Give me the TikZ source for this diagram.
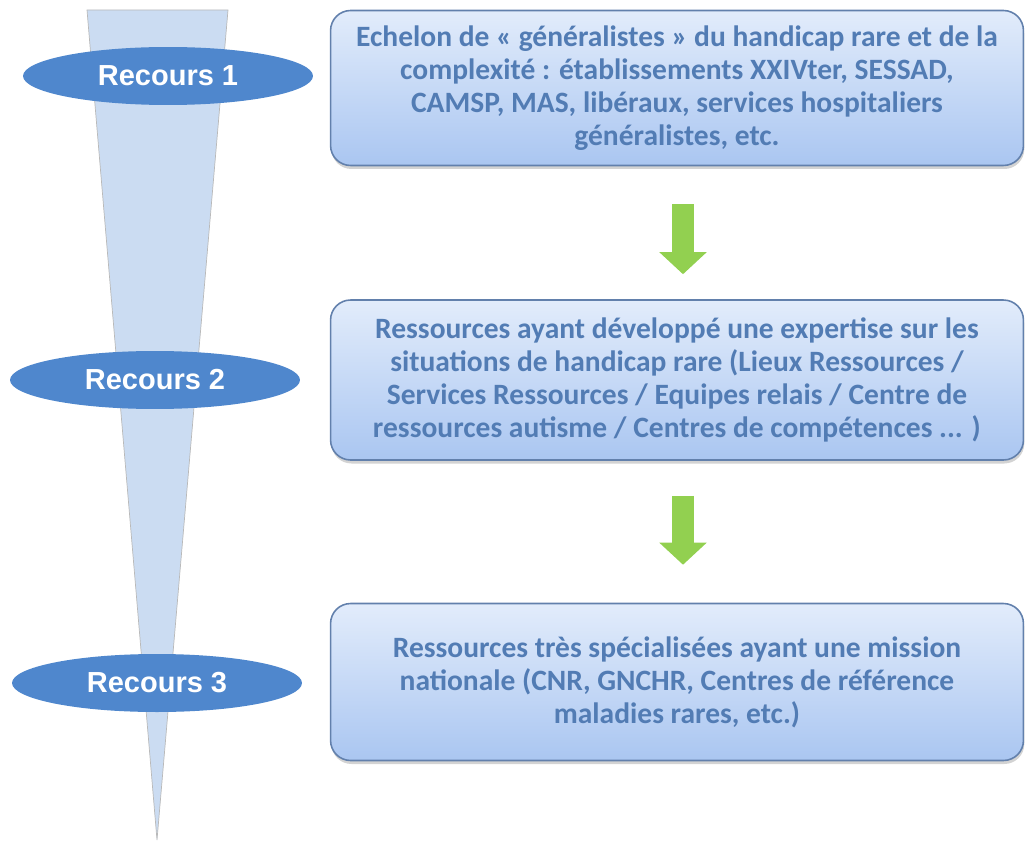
\documentclass[tikz,border=0pt]{standalone}
\usepackage{fontspec}
\setmainfont{Carlito}
\newfontfamily\recfont{Liberation Sans}
\usetikzlibrary{shapes.geometric,arrows.meta,shadows,positioning}
\definecolor{coneblue}{RGB}{203,220,242}
\definecolor{ovalblue}{RGB}{79,135,205}
\definecolor{boxtop}{RGB}{226,236,251}
\definecolor{boxbot}{RGB}{170,198,241}
\definecolor{boxline}{RGB}{98,128,172}
\definecolor{textblue}{RGB}{82,124,180}
\definecolor{arrowgreen}{RGB}{146,208,80}
\tikzset{
    recours/.style={ellipse, fill=ovalblue, minimum width=5.8cm, minimum height=1.16cm,
        inner sep=0pt, text=white, font=\recfont\fontsize{16.5}{18}\selectfont\bfseries},
    niveau/.style={rectangle, rounded corners=0.4cm, draw=boxline, line width=0.9pt,
        top color=boxtop, bottom color=boxbot, minimum width=13.86cm, align=center,
        text=textblue, font=\fontsize{16.8}{18.8}\selectfont\bfseries,
        drop shadow={shadow xshift=0.5pt, shadow yshift=-2pt, opacity=0.35}},
    descente/.style={line width=0.44cm, color=arrowgreen,
        -{Triangle[width=0.92cm, length=0.44cm]}}
}

\begin{document}
\begin{tikzpicture}[x=0.02cm, y=-0.02cm]
    \useasboundingbox (0,0) rectangle (1026,844);

    % le cone
    \filldraw[fill=coneblue, draw=gray!55, thin] (87,10) -- (228,10) -- (157,840) -- cycle;

    \node[recours] (r1) at (168,76) {Recours 1};
    \node[recours] (r2) at (155,380) {Recours 2};
    \node[recours] (r3) at (157,683) {Recours 3};

    \node[niveau, minimum height=3.1cm] (n1) at (677,88)
        {Echelon de « généralistes » du handicap rare et de la\\
         complexité : établissements XXIVter, SESSAD,\\
         CAMSP, MAS, libéraux, services hospitaliers\\
         généralistes, etc.};
    \node[niveau, minimum height=3.2cm] (n2) at (677,380)
        {Ressources ayant développé une expertise sur les\\
         situations de handicap rare (Lieux Ressources /\\
         Services Ressources / Equipes relais / Centre de\\
         ressources autisme / Centres de compétences ... )};
    \node[niveau, minimum height=3.14cm] (n3) at (677,682)
        {Ressources très spécialisées ayant une mission\\
         nationale (CNR, GNCHR, Centres de référence\\
         maladies rares, etc.)};

    \draw[descente, shorten <=0.76cm, shorten >=0.5cm] ([xshift=0.12cm]n1.south) -- ([xshift=0.12cm]n2.north);
    \draw[descente, shorten <=0.7cm, shorten >=0.76cm] ([xshift=0.12cm]n2.south) -- ([xshift=0.12cm]n3.north);

\end{tikzpicture}
\end{document}
